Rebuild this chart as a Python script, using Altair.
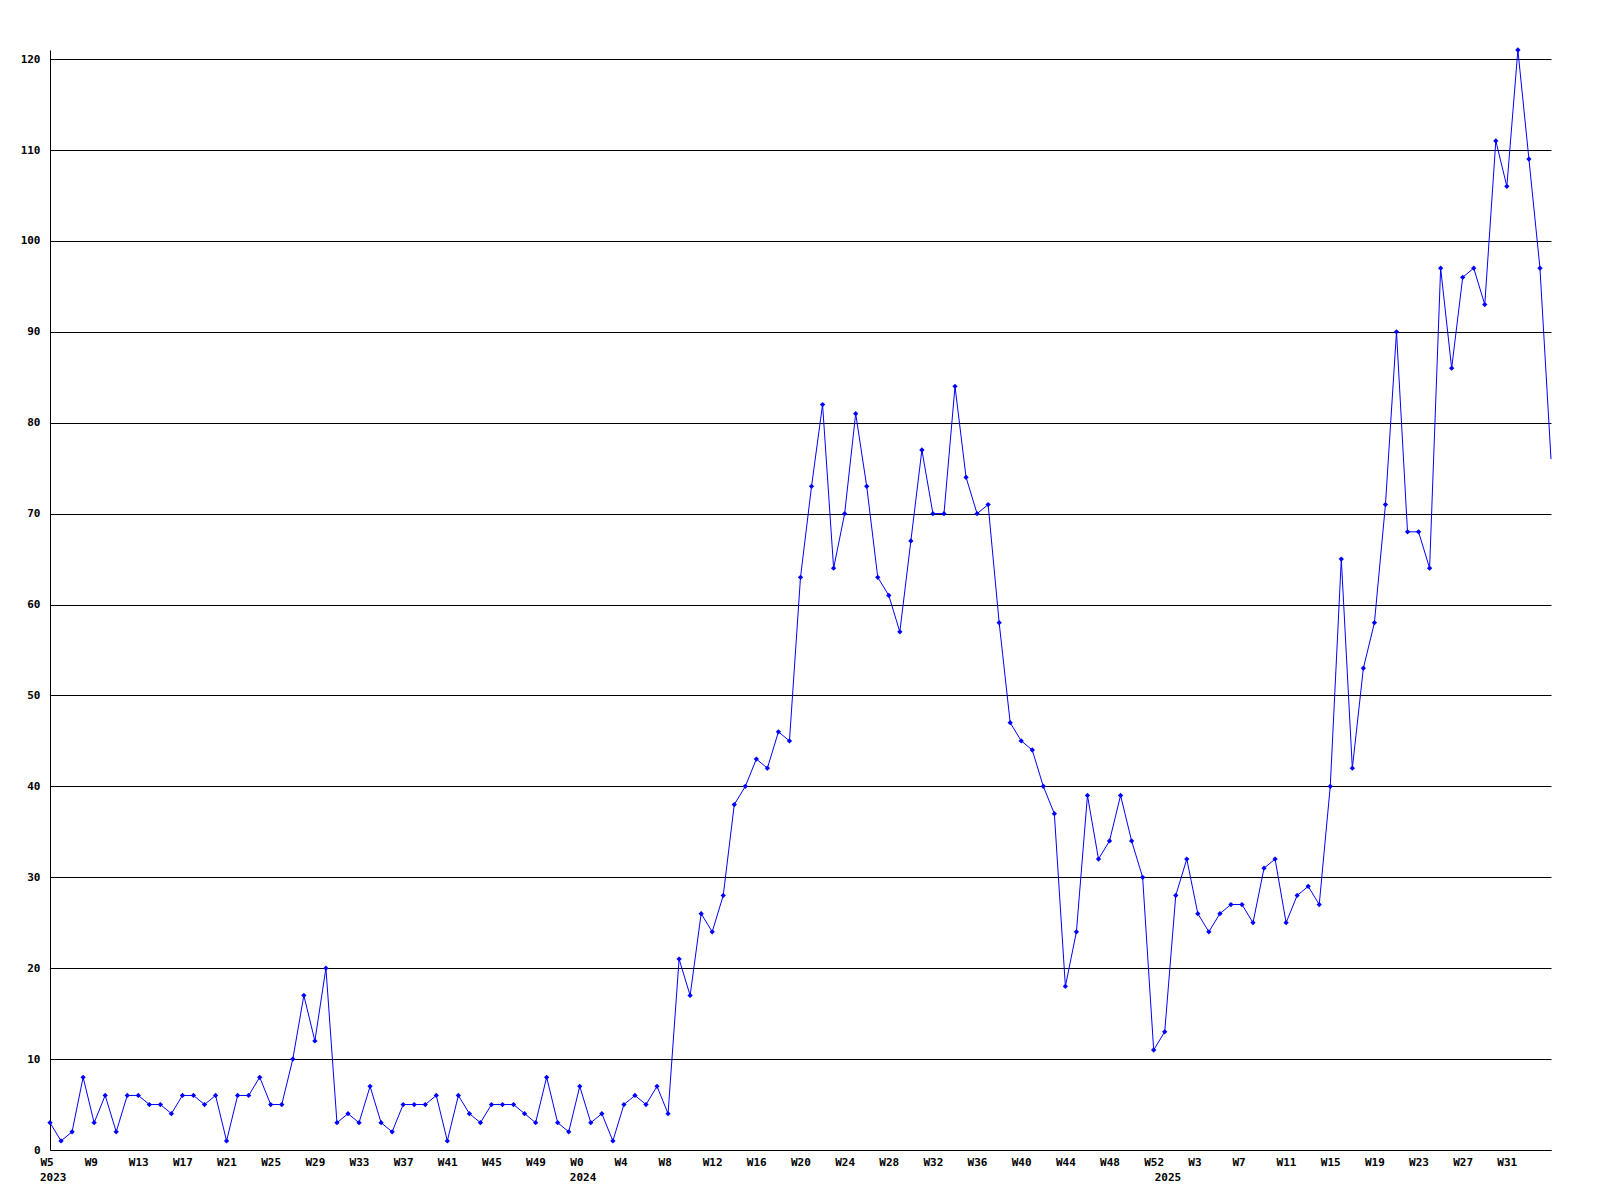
import altair as alt
import pandas as pd

# Week labels per year
weeks_2023 = [f"W{w}" for w in range(5, 53)]
weeks_2024 = [f"W{w}" for w in range(0, 53)]
weeks_2025 = [f"W{w}" for w in range(0, 36)]

# Weekly counts
v2023 = [3, 1, 2, 8, 3, 6, 2, 6, 6, 5, 5, 4, 6, 6, 5, 6, 1, 6, 6, 8, 5, 5, 10, 17, 12,
         20, 3, 4, 3, 7, 3, 2, 5, 5, 5, 6, 1, 6, 4, 3, 5, 5, 5, 4, 3, 8, 3, 2]
v2024 = [7, 3, 4, 1, 5, 6, 5, 7, 4, 21, 17, 26, 24, 28, 38, 40, 43, 42, 46, 45, 63, 73,
         82, 64, 70, 81, 73, 63, 61, 57, 67, 77, 70, 70, 84, 74, 70, 71, 58, 47, 45, 44,
         40, 37, 18, 24, 39, 32, 34, 39, 34, 30, 11]
v2025 = [13, 28, 32, 26, 24, 26, 27, 27, 25, 31, 32, 25, 28, 29, 27, 40, 65, 42, 53, 58,
         71, 90, 68, 68, 64, 97, 86, 96, 97, 93, 111, 106, 121, 109, 97, 76]

weeks = weeks_2023 + weeks_2024 + weeks_2025
values = v2023 + v2024 + v2025
n = len(values)

df = pd.DataFrame({"idx": list(range(n)), "week": weeks, "count": values})
df_pts = df[df["idx"] < n - 1]

years = pd.DataFrame({
    "idx": [0, len(v2023), len(v2023) + len(v2024)],
    "year": ["2023", "2024", "2025"],
})

FONT = "DejaVu Sans Mono"
label_expr = "[" + ",".join(f"'{w}'" for w in weeks) + "][datum.value]"

x_enc = alt.X(
    "idx:Q",
    scale=alt.Scale(domain=[0, n - 1], nice=False, zero=False),
    axis=alt.Axis(
        values=list(range(0, n - 4, 4)),
        labelExpr=label_expr,
        title=None, grid=False, ticks=False,
        domainColor="black", domainWidth=1,
        labelAlign="left", labelOffset=-10, labelPadding=6, labelBaseline="top",
        labelFont=FONT, labelFontWeight="bold", labelFontSize=11, labelColor="black",
        labelOverlap=False, labelFlush=False,
    ),
)
y_enc = alt.Y(
    "count:Q",
    scale=alt.Scale(domain=[0, 121], nice=False),
    axis=alt.Axis(
        values=list(range(0, 121, 10)),
        title=None, grid=True, gridColor="black", gridOpacity=1, gridWidth=1,
        ticks=False, domainColor="black", domainWidth=1, labelPadding=10,
        labelFont=FONT, labelFontWeight="bold", labelFontSize=11, labelColor="black",
    ),
)

base = alt.Chart(df)
line = base.mark_line(color="#0000ff", strokeWidth=1).encode(x=x_enc, y=y_enc)
pts = alt.Chart(df_pts).mark_point(
    shape="diamond", filled=True, size=28, color="#0000ff", opacity=1
).encode(x="idx:Q", y="count:Q")

year_text = alt.Chart(years).mark_text(
    align="left", baseline="top", dx=-10, font=FONT, fontWeight="bold",
    fontSize=11, color="black"
).encode(x="idx:Q", y=alt.value(1122), text="year:N")

chart = alt.layer(line, pts, year_text).properties(
    width=1501,
    height=1100,
    padding={"left": 42, "top": 42, "right": 40, "bottom": 40},
    autosize=alt.AutoSizeParams(type="none"),
    background="white",
).configure_view(strokeWidth=0)

chart.save("out.html", embed_options={"renderer": "svg", "actions": False})
